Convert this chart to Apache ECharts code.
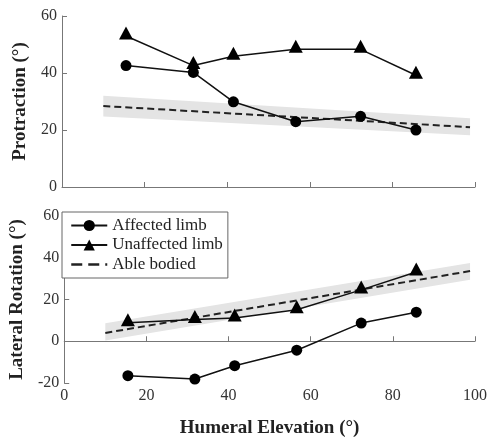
<!DOCTYPE html>
<html><head><meta charset="utf-8">
<script src="https://cdn.jsdelivr.net/npm/echarts@6/dist/echarts.min.js"></script>
<style>html,body{margin:0;padding:0;background:#fff}#c{width:490px;height:439px}</style>
</head><body><div id="c"></div>
<script>
// ---- data ----
const elevation = [15.5, 31.8, 41.5, 56.6, 72.3, 85.7];
const protAffected = [42.6, 40.2, 29.9, 22.9, 24.8, 20.0];
const protUnaffected = [53.0, 42.6, 45.9, 48.3, 48.3, 39.2];
const rotAffected = [-16.5, -18.1, -11.7, -4.3, 8.7, 13.9];
const rotUnaffected = [8.9, 10.4, 11.1, 15.1, 24.6, 33.2];
const ableX = [10, 98.8];
const protAble = [28.4, 21.0];
const protAbleLow = [24.7, 18.2];
const protAbleHigh = [32.0, 24.1];
const rotAble = [4.0, 33.6];
const rotAbleLow = [0.3, 29.5];
const rotAbleHigh = [8.6, 37.5];
const xTicks = [0, 20, 40, 60, 80, 100];
const protTicks = [0, 20, 40, 60];
const rotTicks = [-20, 0, 20, 40, 60];
const names = ['Affected limb', 'Unaffected limb', 'Able bodied'];
const xTitle = 'Humeral Elevation (°)';
const protTitle = 'Protraction (°)';
const rotTitle = 'Lateral Rotation (°)';

const FONT = "'Liberation Serif','Times New Roman',serif";
const chart = echarts.init(document.getElementById('c'), null, {renderer: 'canvas'});

function pairs(xs, ys) { return xs.map((x, i) => [x, ys[i]]); }

function xAxisCfg(gi, showLabel) {
  return {
    type: 'value', gridIndex: gi, min: xTicks[0], max: xTicks[xTicks.length - 1],
    interval: xTicks[1] - xTicks[0],
    axisLine: {lineStyle: {color: '#777', width: 1}},
    axisTick: {inside: true, length: 5, lineStyle: {color: '#777'}},
    splitLine: {show: false},
    axisLabel: {show: showLabel, fontSize: 16, color: '#333', fontFamily: FONT, margin: 5},
    name: showLabel ? xTitle : '', nameLocation: 'middle', nameGap: 36,
    nameTextStyle: {fontSize: 19, fontWeight: 'bold', fontFamily: FONT, color: '#222'}
  };
}
function yAxisCfg(gi, ticks, title) {
  return {
    type: 'value', gridIndex: gi, min: ticks[0], max: ticks[ticks.length - 1],
    interval: ticks[1] - ticks[0],
    axisLine: {show: true, lineStyle: {color: '#777', width: 1}},
    axisTick: {show: true, inside: true, length: 5, lineStyle: {color: '#777'}},
    splitLine: {show: false},
    axisLabel: {fontSize: 16, color: '#333', fontFamily: FONT, margin: 5},
    name: title, nameLocation: 'middle', nameGap: 32,
    nameTextStyle: {fontSize: 19, fontWeight: 'bold', fontFamily: FONT, color: '#222'}
  };
}
function band(gi, low, high) {
  return {
    type: 'custom', name: 'band', xAxisIndex: gi, yAxisIndex: gi, silent: true, z: 1,
    data: ableX.map((x, i) => [x, low[i], high[i]]),
    renderItem: function (params, api) {
      if (params.dataIndex !== 0) return null;
      const pts = [];
      for (let i = 0; i < ableX.length; i++) pts.push(api.coord([ableX[i], high[i]]));
      for (let i = ableX.length - 1; i >= 0; i--) pts.push(api.coord([ableX[i], low[i]]));
      return {type: 'polygon', shape: {points: pts}, style: {fill: '#e4e4e4', stroke: null}};
    }
  };
}
function circleSeries(gi, ys) {
  return {type: 'line', name: names[0], xAxisIndex: gi, yAxisIndex: gi, data: pairs(elevation, ys),
    symbol: 'circle', symbolSize: 11, z: 3,
    itemStyle: {color: '#000'}, lineStyle: {color: '#111', width: 1.5}};
}
function triSeries(gi, ys) {
  return {type: 'line', name: names[1], xAxisIndex: gi, yAxisIndex: gi, data: pairs(elevation, ys),
    symbol: 'triangle', symbolSize: [14, 13], symbolOffset: [0, -3], z: 3,
    itemStyle: {color: '#000'}, lineStyle: {color: '#111', width: 1.5}};
}
function ableSeries(gi, ys) {
  return {type: 'line', name: names[2], xAxisIndex: gi, yAxisIndex: gi, data: pairs(ableX, ys),
    symbol: 'none', z: 2, itemStyle: {color: '#222'},
    lineStyle: {color: '#222', width: 2, type: [7, 4]}};
}

chart.setOption({
  animation: false,
  backgroundColor: '#fff',
  textStyle: {fontFamily: FONT},
  grid: [
    {left: 62, right: 15, top: 16, height: 171},
    {left: 62, right: 15, top: 216, height: 167}
  ],
  xAxis: [xAxisCfg(0, false), xAxisCfg(1, true)],
  yAxis: [yAxisCfg(0, protTicks, protTitle), yAxisCfg(1, rotTicks, rotTitle)],
  legend: {
    data: [
      {name: names[0]},
      {name: names[1]},
      {name: names[2], itemStyle: {opacity: 0}, lineStyle: {type: [11, 6], width: 2.5}}
    ],
    orient: 'vertical', left: 62, top: 212,
    itemWidth: 36, itemHeight: 14, itemGap: 2.5,
    padding: [5, 5, 5, 8],
    borderColor: '#666', borderWidth: 1, borderRadius: 0, backgroundColor: '#fff',
    textStyle: {fontSize: 17, color: '#222', fontFamily: FONT}
  },
  series: [
    band(0, protAbleLow, protAbleHigh),
    ableSeries(0, protAble),
    circleSeries(0, protAffected),
    triSeries(0, protUnaffected),
    band(1, rotAbleLow, rotAbleHigh),
    ableSeries(1, rotAble),
    circleSeries(1, rotAffected),
    triSeries(1, rotUnaffected)
  ]
});
</script></body></html>
